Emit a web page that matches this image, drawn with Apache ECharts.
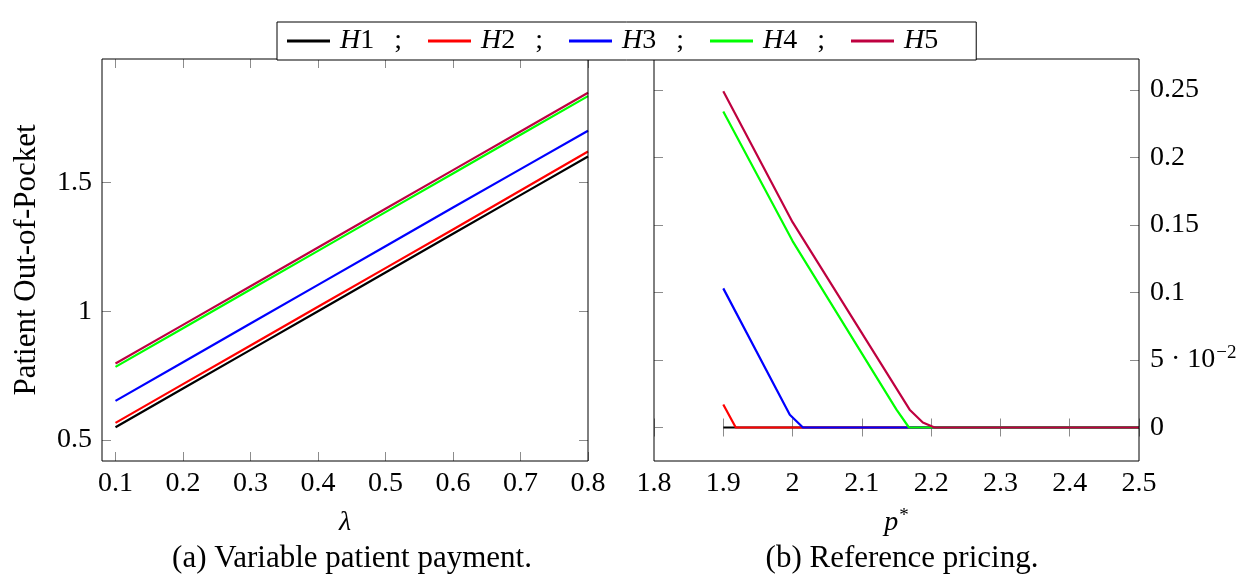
<!DOCTYPE html>
<html>
<head>
<meta charset="utf-8">
<script src="https://cdn.jsdelivr.net/npm/echarts@6/dist/echarts.min.js"></script>
<style>
  html, body { margin: 0; padding: 0; background: #fff; }
  #chart { width: 1246px; height: 574px; }
</style>
</head>
<body>
<div id="chart"></div>
<script>
// (a) variable patient payment, x = lambda
var lambdaVals = [0.1, 0.2, 0.3, 0.4, 0.5, 0.6, 0.7, 0.8];
var h1Lambda = [0.55, 0.70, 0.85, 1.00, 1.15, 1.30, 1.45, 1.60];
var h2Lambda = [0.567, 0.717, 0.867, 1.017, 1.167, 1.317, 1.468, 1.619];
var h3Lambda = [0.652, 0.802, 0.952, 1.102, 1.252, 1.402, 1.551, 1.70];
var h4Lambda = [0.784, 0.934, 1.084, 1.234, 1.384, 1.534, 1.684, 1.834];
var h5Lambda = [0.797, 0.947, 1.097, 1.247, 1.397, 1.547, 1.697, 1.847];

// (b) reference pricing, [p*, out-of-pocket]
var h1Price = [[1.9, 0], [2.0, 0], [2.1, 0], [2.2, 0], [2.3, 0], [2.4, 0], [2.5, 0]];
var h2Price = [[1.9, 0.017], [1.918, 0], [2.0, 0], [2.2, 0], [2.5, 0]];
var h3Price = [[1.9, 0.103], [1.996, 0.0094], [2.015, 0], [2.2, 0], [2.5, 0]];
var h4Price = [[1.9, 0.234], [2.0, 0.138], [2.15, 0.0132], [2.168, 0], [2.3, 0], [2.5, 0]];
var h5Price = [[1.9, 0.249], [2.0, 0.152], [2.169, 0.0132], [2.188, 0.0037], [2.205, 0], [2.3, 0], [2.5, 0]];

var names = ["H1", "H2", "H3", "H4", "H5"];
var colors = ["#000000", "#ff0000", "#0000ff", "#00ff00", "#bf0040"];

var lambdaTicks = [0.1, 0.2, 0.3, 0.4, 0.5, 0.6, 0.7, 0.8];
var leftYTicks = [0.5, 1, 1.5];
var priceTicks = [1.8, 1.9, 2, 2.1, 2.2, 2.3, 2.4, 2.5];
var rightYTicks = [0, 0.05, 0.1, 0.15, 0.2, 0.25];

var FONT = "Liberation Serif";
var FS = 28;
var tickColor = "#8c8c8c";

function zip(xs, ys) {
  return xs.map(function (x, i) { return [x, ys[i]]; });
}

// extra axis that only draws the inward ticks on the opposite side of the box
function tickOnly(gridIndex, pos, min, max, ticks) {
  return {
    type: "value", gridIndex: gridIndex, position: pos, min: min, max: max,
    axisLine: { show: false },
    axisTick: { show: true, inside: true, length: 9, customValues: ticks, lineStyle: { color: tickColor, width: 1 } },
    axisLabel: { show: false },
    splitLine: { show: false }
  };
}

var chart = echarts.init(document.getElementById("chart"), null, { renderer: "canvas" });

var lambdaSeries = [h1Lambda, h2Lambda, h3Lambda, h4Lambda, h5Lambda].map(function (arr, i) {
  return {
    name: names[i], type: "line", xAxisIndex: 0, yAxisIndex: 0,
    data: zip(lambdaVals, arr), showSymbol: false, symbol: "none",
    lineStyle: { color: colors[i], width: 2.2 }, itemStyle: { color: colors[i] }, z: 3 + i
  };
});
var priceSeries = [h1Price, h2Price, h3Price, h4Price, h5Price].map(function (arr, i) {
  return {
    name: names[i], type: "line", xAxisIndex: 1, yAxisIndex: 1,
    data: arr, showSymbol: false, symbol: "none",
    lineStyle: { color: colors[i], width: 2.2 }, itemStyle: { color: colors[i] }, z: 3 + i
  };
});

var option = {
  animation: false,
  backgroundColor: "#fff",
  title: [
    { text: "(a) Variable patient payment.", left: 347, top: 538, textAlign: "center",
      textStyle: { fontFamily: FONT, fontSize: 31, fontWeight: "normal", color: "#000" } },
    { text: "(b) Reference pricing.", left: 897, top: 538, textAlign: "center",
      textStyle: { fontFamily: FONT, fontSize: 31, fontWeight: "normal", color: "#000" } }
  ],
  legend: {
    data: names, left: 277, top: 22, orient: "horizontal",
    icon: "rect", itemWidth: 43, itemHeight: 3, itemGap: 26,
    padding: [5, 38, 5, 10],
    borderColor: "#000", borderWidth: 1, backgroundColor: "#fff",
    selectedMode: false, z: 20,
    formatter: function (name) {
      var s = "{i|H}{n|" + name.slice(1) + "}";
      if (name !== "H5") s += "{s|;}";
      return s;
    },
    textStyle: {
      fontFamily: FONT, fontSize: FS, color: "#000",
      rich: {
        i: { fontFamily: FONT, fontSize: FS, fontStyle: "italic", padding: [0, 0, 0, 5] },
        n: { fontFamily: FONT, fontSize: FS },
        s: { fontFamily: FONT, fontSize: FS, padding: [0, 0, 0, 20] }
      }
    }
  },
  grid: [
    { left: 102, top: 59, width: 486, height: 402, show: true, borderColor: "#000", borderWidth: 1, backgroundColor: "transparent", z: 10 },
    { left: 654, top: 59, width: 485, height: 402, show: true, borderColor: "#000", borderWidth: 1, backgroundColor: "transparent", z: 10 }
  ],
  xAxis: [
    {
      type: "value", gridIndex: 0, position: "bottom", min: 0.08, max: 0.8,
      axisLine: { show: false },
      axisTick: { show: true, inside: true, length: 9, customValues: lambdaTicks, lineStyle: { color: tickColor } },
      axisLabel: { customValues: lambdaTicks, margin: 9, fontFamily: FONT, fontSize: FS, color: "#000" },
      splitLine: { show: false },
      name: "λ", nameLocation: "middle", nameGap: 48,
      nameTextStyle: { fontFamily: FONT, fontSize: FS, fontStyle: "italic", color: "#000" }
    },
    {
      type: "value", gridIndex: 1, position: "bottom", min: 1.8, max: 2.5,
      axisLine: { show: false },
      axisTick: { show: true, inside: true, length: 9, customValues: priceTicks, lineStyle: { color: tickColor } },
      axisLabel: { customValues: priceTicks, margin: 9, fontFamily: FONT, fontSize: FS, color: "#000" },
      splitLine: { show: false },
      name: "{i|p}{s|*}", nameLocation: "middle", nameGap: 46,
      nameTextStyle: {
        fontFamily: FONT, fontSize: FS, color: "#000",
        rich: {
          i: { fontFamily: FONT, fontSize: FS, fontStyle: "italic" },
          s: { fontFamily: FONT, fontSize: 19, padding: [0, 0, 13, 1] }
        }
      }
    },
    tickOnly(0, "top", 0.08, 0.8, lambdaTicks),
    tickOnly(1, "top", 1.8, 2.5, priceTicks)
  ],
  yAxis: [
    {
      type: "value", gridIndex: 0, position: "left", min: 0.419, max: 1.978,
      axisLine: { show: false },
      axisTick: { show: true, inside: true, length: 9, customValues: leftYTicks, lineStyle: { color: tickColor } },
      axisLabel: { customValues: leftYTicks, margin: 10, fontFamily: FONT, fontSize: FS, color: "#000" },
      splitLine: { show: false },
      name: "Patient Out-of-Pocket", nameLocation: "middle", nameGap: 60,
      nameTextStyle: { fontFamily: FONT, fontSize: 31, color: "#000" }
    },
    {
      type: "value", gridIndex: 1, position: "right", min: -0.0248, max: 0.2728,
      axisLine: { show: false },
      axisTick: { show: true, inside: true, length: 9, customValues: rightYTicks, lineStyle: { color: tickColor } },
      axisLabel: {
        customValues: rightYTicks, margin: 11, fontFamily: FONT, fontSize: FS, color: "#000",
        formatter: function (v) {
          if (Math.abs(v - 0.05) < 1e-9) return "5 · 10{sup|−2}";
          return String(v);
        },
        rich: {
          sup: { fontFamily: FONT, fontSize: 19, padding: [0, 0, 13, 1] }
        }
      },
      splitLine: { show: false }
    },
    tickOnly(0, "right", 0.419, 1.978, leftYTicks),
    tickOnly(1, "left", -0.0248, 0.2728, rightYTicks)
  ],
  series: lambdaSeries.concat(priceSeries)
};

chart.setOption(option);
</script>
</body>
</html>
